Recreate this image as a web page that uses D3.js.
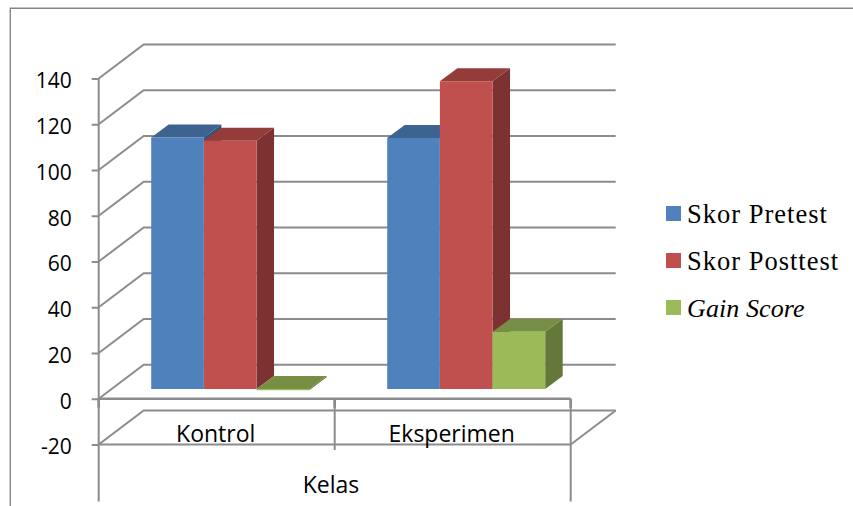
<!DOCTYPE html>
<html>
<head>
<meta charset="utf-8">
<script src="https://cdn.jsdelivr.net/npm/d3@7"></script>
<style>
  html, body { margin: 0; padding: 0; background: #fff; }
  svg { display: block; }
  .tick text { font-family: "Open Sans", sans-serif; }
</style>
</head>
<body>
<div id="chart"></div>
<script>
const categories = ["Kontrol", "Eksperimen"];
const seriesNames = ["Skor Pretest", "Skor Posttest", "Gain Score"];
const pretest = [110, 109.7];
const posttest = [108.5, 134.6];
const gainScore = [-0.5, 25];
const yTicks = [-20, 0, 20, 40, 60, 80, 100, 120, 140];
const axisTitle = "Kelas";

const seriesValues = [pretest, posttest, gainScore];
const colors = [
  {front: "#4f81bd", top: "#3d6491", side: "#335479"},
  {front: "#c0504d", top: "#943c3a", side: "#7c3230"},
  {front: "#9bbb59", top: "#778f44", side: "#647839"}
];

const width = 853, height = 506;
const gridColor = "#8c8c8c";

// 3d offsets of the box
const wallDx = 45, wallDy = -34;    // front plane to back wall
const barInDx = 14, barInDy = -9.7; // front plane to front of the bars
const barDx = 17.5, barDy = -13;    // depth of one bar

const svg = d3.select("#chart").append("svg")
    .attr("width", width)
    .attr("height", height);

const y = d3.scaleLinear().domain([-20, 140]).range([444.5, 78.5]);
const x = d3.scaleBand().domain(categories).range([98.7, 570.7]);
const xSeries = d3.scaleBand().domain(d3.range(3)).range([38.5, 196.5]);

// outer frame of the chart area
svg.append("path")
    .attr("d", "M10.3,506V8.3H853")
    .attr("fill", "none")
    .attr("stroke", "#868686")
    .attr("stroke-width", 1.4);

const grid = svg.append("g")
    .attr("fill", "none")
    .attr("stroke", gridColor)
    .attr("stroke-width", 2);

// back wall and side wall lines
yTicks.forEach(t => {
  grid.append("path")
      .attr("d", `M${x.range()[0]},${y(t)}l${wallDx},${wallDy}H${x.range()[1] + wallDx}`);
});
// floor at the lowest tick, right hand edge
grid.append("path")
    .attr("d", `M${x.range()[1]},${y(-20)}l${wallDx},${wallDy}`);
grid.append("path")
    .attr("d", `M${x.range()[0]},${y(-20)}H${x.range()[1]}`);

// axis
const yAxis = svg.append("g")
    .attr("transform", `translate(${x.range()[0]},0)`)
    .call(d3.axisLeft(y).tickValues(yTicks).tickSize(7).tickPadding(20).tickFormat(d => String(d)));
yAxis.select(".domain").remove();
yAxis.selectAll("line").attr("stroke", gridColor).attr("stroke-width", 2);
yAxis.selectAll("text").attr("font-size", 21).attr("fill", "#000").attr("dy", "0.44em");

// multi level category axis lines
grid.append("path").attr("d", `M${x.range()[0]},${y(140)}V501.5`);
grid.append("path").attr("d", `M${x.range()[1]},${y(0)}V501.5`);
grid.append("path").attr("d", `M${x(categories[1])},${y(0)}V450`);
grid.append("path")
    .attr("d", `M${x.range()[0]},${y(0)}H${x.range()[1]}`)
    .attr("stroke-width", 2.4);
// heavier stubs just under the zero line
[x.range()[0], x(categories[1]), x.range()[1]].forEach(px => {
  grid.append("path")
      .attr("d", `M${px},${y(0)}v9`)
      .attr("stroke-width", 2.6);
});

// bars, drawn left to right so that each covers the side of the one before
categories.forEach((cat, c) => {
  seriesValues.forEach((values, s) => {
    const x0 = x(cat) + xSeries(s) + barInDx;
    const x1 = x0 + xSeries.bandwidth();
    const yTop = y(Math.max(values[c], 0)) + barInDy;
    const yBase = y(Math.min(values[c], 0)) + barInDy;
    const col = colors[s];
    const g = svg.append("g");

    g.append("path")
        .attr("d", `M${x1},${yTop}l${barDx},${barDy}V${yBase + barDy}L${x1},${yBase}Z`)
        .attr("fill", col.side);
    g.append("path")
        .attr("d", `M${x0},${yTop}l${barDx},${barDy}H${x1 + barDx}L${x1},${yTop}Z`)
        .attr("fill", col.top);
    g.append("path")
        .attr("d", `M${x0},${yTop}H${x1}V${yBase}H${x0}Z`)
        .attr("fill", col.front);
  });
});

// category labels
svg.append("g").selectAll("text")
    .data(categories)
    .join("text")
    .attr("x", d => x(d) + x.bandwidth() / 2 - 1)
    .attr("y", 441.5)
    .attr("text-anchor", "middle")
    .attr("font-family", "Open Sans, sans-serif")
    .attr("font-size", 23)
    .attr("fill", "#000")
    .text(d => d);

svg.append("text")
    .attr("x", 331)
    .attr("y", 492.5)
    .attr("text-anchor", "middle")
    .attr("font-family", "Open Sans, sans-serif")
    .attr("font-size", 23)
    .attr("fill", "#000")
    .text(axisTitle);

// legend
const legendY = d3.scalePoint().domain(seriesNames).range([213.5, 307.5]);
const legend = svg.append("g").selectAll("g")
    .data(seriesNames)
    .join("g")
    .attr("transform", d => `translate(666,${legendY(d)})`);
legend.append("rect")
    .attr("x", 0).attr("y", -7.5)
    .attr("width", 15).attr("height", 15)
    .attr("fill", (d, i) => colors[i].front);
legend.append("text")
    .attr("x", 21)
    .attr("y", 9)
    .attr("font-family", "Liberation Serif, serif")
    .attr("font-size", (d, i) => i === 2 ? 26 : 26.5)
    .attr("letter-spacing", (d, i) => i === 2 ? 0.1 : 1)
    .attr("font-style", (d, i) => i === 2 ? "italic" : "normal")
    .attr("fill", "#000")
    .text(d => d);
</script>
</body>
</html>
